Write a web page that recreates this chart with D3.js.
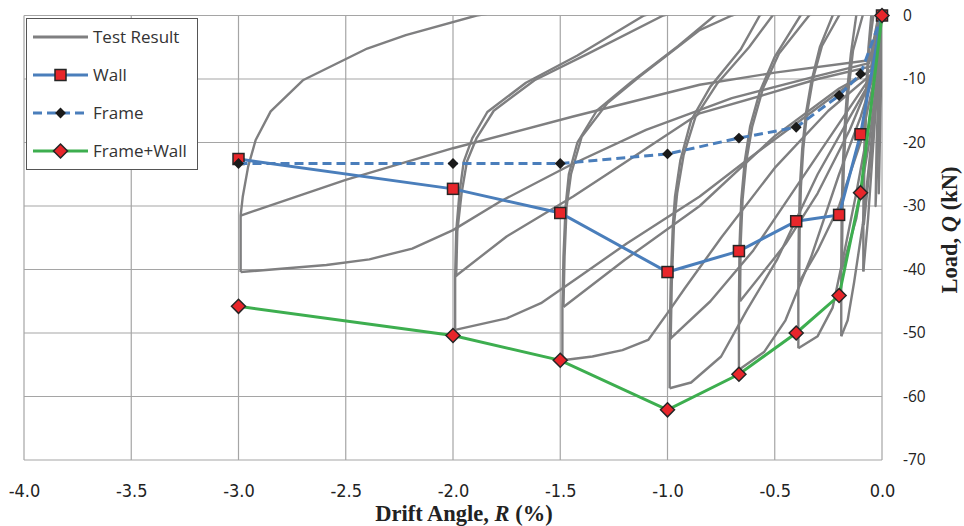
<!DOCTYPE html>
<html>
<head>
<meta charset="utf-8">
<script src="https://cdn.jsdelivr.net/npm/d3@7/dist/d3.min.js"></script>
<style>
body { margin: 0; background: #fff; }
svg { display: block; }
</style>
</head>
<body>
<svg id="chart"></svg>
<script>
// envelope values
var driftPeaks = [-3.0, -2.0, -1.5, -1.0, -0.667, -0.4, -0.2, -0.1, 0];
var wallLoad = [-22.6, -27.3, -31.1, -40.4, -37.1, -32.4, -31.4, -18.7, 0];
var frameLoad = [-23.3, -23.3, -23.3, -21.8, -19.3, -17.6, -12.6, -9.2, 0];
var frameWallLoad = [-45.8, -50.4, -54.3, -62.1, -56.5, -50.0, -44.1, -27.9, 0];

var xTicks = [-4.0, -3.5, -3.0, -2.5, -2.0, -1.5, -1.0, -0.5, 0.0];
var xTickLabels = ["-4.0", "-3.5", "-3.0", "-2.5", "-2.0", "-1.5", "-1.0", "-0.5", "0.0"];
var yTicks = [0, -10, -20, -30, -40, -50, -60, -70];
var yTickLabels = ["0", "-10", "-20", "-30", "-40", "-50", "-60", "-70"];

// hysteresis branches of the test, [R, Q] pairs
var testResult = [
    // -3.0 %
    [[-0.01, 1], [-0.06, -7.5], [-0.3, -9.5], [-0.7, -13], [-1.1, -18], [-1.45, -23.5], [-1.78, -29.3], [-2.0, -33.8], [-2.19, -36.7], [-2.39, -38.4], [-2.59, -39.3], [-2.99, -40.4]],
    [[-2.99, -40.4], [-2.99, -31.5], [-2.98, -28.5], [-2.955, -23.8], [-2.92, -19.6], [-2.85, -15.1], [-2.70, -10.2], [-2.40, -5.2], [-2.22, -3.1], [-1.89, 0], [-1.7, 1]],
    [[-0.01, 1], [-0.05, -7], [-0.5, -9], [-0.85, -10.9], [-1.44, -15.9], [-2.0, -20.9], [-2.5, -25.9], [-2.99, -31.5]],
    // -2.0 %
    [[-0.01, 1], [-0.05, -8.5], [-0.2, -12], [-0.4, -17], [-0.6, -22], [-0.85, -28.5], [-1.19, -35.9], [-1.41, -41.1], [-1.59, -45.3], [-1.75, -47.7], [-1.99, -49.5]],
    [[-1.99, -49.5], [-1.99, -41.1], [-1.985, -34], [-1.97, -28], [-1.95, -23], [-1.91, -19.3], [-1.84, -15.2], [-1.66, -10.6], [-1.42, -6.3], [-1.11, 0], [-1.0, 1]],
    [[-0.01, 1], [-0.05, -8], [-0.3, -10], [-0.55, -12.5], [-0.85, -15.4], [-1.2, -23.2], [-1.44, -28.5], [-1.75, -34.8], [-1.99, -41.1]],
    [[-1.985, -41.1], [-1.98, -34], [-1.96, -28], [-1.935, -23], [-1.89, -19.3], [-1.81, -15], [-1.62, -10.2], [-1.37, -6], [-1.02, 0], [-0.9, 1]],
    // -1.5 %
    [[-0.01, 1], [-0.04, -9], [-0.25, -15], [-0.5, -24], [-0.75, -35], [-0.92, -43], [-0.99, -46.4], [-1.09, -51.1], [-1.21, -52.7], [-1.35, -53.7], [-1.49, -54.3]],
    [[-1.49, -54.3], [-1.49, -45.9], [-1.485, -38], [-1.475, -30], [-1.46, -25], [-1.42, -20], [-1.33, -15], [-1.17, -10.5], [-0.95, -4.8], [-0.78, 0], [-0.7, 1]],
    [[-0.01, 1], [-0.04, -8.5], [-0.2, -11.5], [-0.5, -19], [-0.85, -30], [-1.2, -38.5], [-1.485, -45.9]],
    [[-1.485, -45.9], [-1.48, -38], [-1.47, -30], [-1.45, -25], [-1.40, -19.1], [-1.28, -13.8], [-1.13, -9.6], [-0.85, -2.3], [-0.70, 0], [-0.62, 1]],
    // -1.0 %
    [[-0.01, 1], [-0.04, -9.5], [-0.15, -16], [-0.3, -25], [-0.49, -38.5], [-0.63, -46.4], [-0.75, -53.7], [-0.89, -57.8], [-0.99, -58.7]],
    [[-0.99, -58.7], [-0.99, -51], [-0.985, -42], [-0.975, -33], [-0.965, -28.5], [-0.94, -22.8], [-0.89, -16.5], [-0.8, -11.2], [-0.66, -5.4], [-0.57, 0], [-0.52, 1]],
    [[-0.01, 1], [-0.04, -9], [-0.2, -17], [-0.4, -27], [-0.6, -37], [-0.8, -45], [-0.99, -51]],
    [[-0.985, -51], [-0.98, -42], [-0.97, -33], [-0.955, -28], [-0.925, -22], [-0.87, -16], [-0.77, -10.8], [-0.62, -5], [-0.51, 0], [-0.46, 1]],
    // -0.667 %
    [[-0.01, 1], [-0.04, -9.5], [-0.1, -16], [-0.2, -25], [-0.33, -38], [-0.45, -48], [-0.55, -53], [-0.667, -55.8]],
    [[-0.667, -55.8], [-0.667, -45], [-0.664, -36], [-0.656, -29], [-0.64, -23], [-0.615, -17.5], [-0.57, -12], [-0.5, -6.5], [-0.38, 0], [-0.34, 1]],
    [[-0.01, 1], [-0.04, -9], [-0.15, -18], [-0.3, -28], [-0.45, -36], [-0.662, -45]],
    [[-0.662, -45], [-0.659, -36], [-0.65, -29], [-0.633, -23], [-0.605, -17.5], [-0.555, -11.5], [-0.48, -6], [-0.34, 0], [-0.3, 1]],
    // -0.4 %
    [[-0.01, 1], [-0.03, -9.5], [-0.06, -17], [-0.12, -28], [-0.18, -38], [-0.23, -46], [-0.3, -50.5], [-0.39, -52.4]],
    [[-0.39, -52.4], [-0.39, -42], [-0.388, -34], [-0.383, -27], [-0.372, -21], [-0.355, -15.5], [-0.33, -10.5], [-0.29, -5], [-0.23, 0], [-0.21, 1]],
    [[-0.01, 1], [-0.03, -9], [-0.1, -20], [-0.2, -30], [-0.3, -37], [-0.386, -42]],
    [[-0.386, -42], [-0.384, -34], [-0.378, -27], [-0.367, -21], [-0.35, -15.5], [-0.322, -10], [-0.28, -4.8], [-0.2, 0], [-0.18, 1]],
    // -0.2 %
    [[-0.005, 1], [-0.02, -9.5], [-0.05, -20], [-0.09, -33], [-0.13, -42], [-0.16, -48], [-0.19, -50.5]],
    [[-0.19, -50.5], [-0.19, -40], [-0.188, -31], [-0.183, -24], [-0.175, -18], [-0.163, -12], [-0.145, -6], [-0.12, 0], [-0.11, 1]],
    [[-0.005, 1], [-0.02, -9], [-0.06, -20], [-0.12, -32], [-0.187, -40]],
    [[-0.187, -40], [-0.184, -31], [-0.178, -24], [-0.17, -18], [-0.157, -12], [-0.135, -5.5], [-0.09, 0], [-0.08, 1]],
    // -0.1 %
    [[-0.003, 1], [-0.015, -8], [-0.04, -20], [-0.065, -32], [-0.087, -40.3]],
    [[-0.087, -40.3], [-0.087, -33], [-0.085, -25], [-0.08, -18], [-0.073, -11], [-0.063, -5], [-0.05, 0], [-0.045, 1]],
    [[-0.003, 1], [-0.015, -7.5], [-0.045, -20], [-0.085, -33]],
    [[-0.085, -33], [-0.083, -25], [-0.077, -18], [-0.07, -11], [-0.058, -4.5], [-0.04, 0], [-0.035, 1]],
    // small initial cycles
    [[0, 0], [-0.01, -12], [-0.02, -22], [-0.03, -30], [-0.025, -20], [-0.015, -10], [-0.005, 0]],
    [[0, 1], [-0.005, -10], [-0.01, -20], [-0.015, -28], [-0.01, -18], [0, -6]]
];

var width = 964, height = 526;
var margin = {top: 15.5, right: 82, bottom: 66, left: 24};

var svg = d3.select('#chart')
    .attr('width', width)
    .attr('height', height);

var x = d3.scaleLinear().domain([-4, 0]).range([margin.left, width - margin.right]);
var y = d3.scaleLinear().domain([-70, 0]).range([height - margin.bottom, margin.top]);

var gridColor = '#a5a5a5';

// grid
svg.append('g').selectAll('line.v')
    .data(xTicks).enter().append('line')
    .attr('x1', function(d) { return x(d); })
    .attr('x2', function(d) { return x(d); })
    .attr('y1', y(0)).attr('y2', y(-70))
    .attr('stroke', gridColor).attr('stroke-width', 1.2);
svg.append('g').selectAll('line.h')
    .data(yTicks).enter().append('line')
    .attr('x1', x(-4)).attr('x2', x(0))
    .attr('y1', function(d) { return y(d); })
    .attr('y2', function(d) { return y(d); })
    .attr('stroke', gridColor).attr('stroke-width', 1.2);

// axes
var xAxis = svg.append('g')
    .attr('transform', 'translate(0,' + y(-70) + ')')
    .call(d3.axisBottom(x).tickValues(xTicks)
        .tickFormat(function(d, i) { return xTickLabels[i]; })
        .tickSize(0).tickPadding(24));
xAxis.select('.domain').remove();
xAxis.selectAll('text')
    .attr('fill', '#222')
    .style('font-family', '"Liberation Sans Narrow", "DejaVu Sans Condensed", sans-serif')
    .style('font-size', '18px');

var yAxis = svg.append('g')
    .attr('transform', 'translate(' + x(0) + ',0)')
    .call(d3.axisRight(y).tickValues(yTicks)
        .tickFormat(function(d, i) { return yTickLabels[i]; })
        .tickSize(0).tickPadding(21));
yAxis.select('.domain').remove();
yAxis.selectAll('text')
    .attr('fill', '#222')
    .style('font-family', '"Open Sans", sans-serif')
    .style('font-size', '15.5px');

svg.append('text')
    .attr('x', 464).attr('y', 521)
    .attr('text-anchor', 'middle')
    .style('font-family', '"Liberation Serif", serif')
    .style('font-weight', 'bold')
    .style('font-size', '22.5px')
    .attr('fill', '#222')
    .html('Drift Angle, <tspan font-style="italic">R</tspan> (%)');

svg.append('text')
    .attr('transform', 'translate(957,230) rotate(-90)')
    .attr('text-anchor', 'middle')
    .style('font-family', '"Liberation Serif", serif')
    .style('font-weight', 'bold')
    .style('font-size', '22.5px')
    .attr('fill', '#222')
    .html('Load, <tspan font-style="italic">Q</tspan> (kN)');

// test curves, clipped to the plot
svg.append('clipPath').attr('id', 'plotclip')
    .append('rect')
    .attr('x', x(-4)).attr('y', y(0))
    .attr('width', x(0) - x(-4)).attr('height', y(-70) - y(0));

var line = d3.line()
    .x(function(d) { return x(d[0]); })
    .y(function(d) { return y(d[1]); });

svg.append('g').attr('clip-path', 'url(#plotclip)')
    .selectAll('path')
    .data(testResult).enter().append('path')
    .attr('d', line)
    .attr('fill', 'none')
    .attr('stroke', '#7f7f80')
    .attr('stroke-width', 2.4)
    .attr('stroke-linejoin', 'round');

function pts(vals) {
    return driftPeaks.map(function(r, i) { return [r, vals[i]]; });
}

var blue = '#4a7ebb';
var green = '#3dae4f';
var red = '#e8262b';

// Wall
svg.append('path').datum(pts(wallLoad))
    .attr('d', line).attr('fill', 'none')
    .attr('stroke', blue).attr('stroke-width', 3);
svg.append('g').selectAll('rect')
    .data(pts(wallLoad)).enter().append('rect')
    .attr('x', function(d) { return x(d[0]) - 5.5; })
    .attr('y', function(d) { return y(d[1]) - 5.5; })
    .attr('width', 11).attr('height', 11)
    .attr('fill', red).attr('stroke', '#262626').attr('stroke-width', 1.5);

// Frame
svg.append('path').datum(pts(frameLoad))
    .attr('d', line).attr('fill', 'none')
    .attr('stroke', blue).attr('stroke-width', 3)
    .attr('stroke-dasharray', '9,5');
var smallDiamond = d3.symbol().type(d3.symbolDiamond2).size(75);
svg.append('g').selectAll('path')
    .data(pts(frameLoad)).enter().append('path')
    .attr('d', smallDiamond)
    .attr('transform', function(d) { return 'translate(' + x(d[0]) + ',' + y(d[1]) + ')'; })
    .attr('fill', '#1a1a1a');

// Frame+Wall
svg.append('path').datum(pts(frameWallLoad))
    .attr('d', line).attr('fill', 'none')
    .attr('stroke', green).attr('stroke-width', 3);
var bigDiamond = d3.symbol().type(d3.symbolDiamond2).size(125);
svg.append('g').selectAll('path')
    .data(pts(frameWallLoad)).enter().append('path')
    .attr('d', bigDiamond)
    .attr('transform', function(d) { return 'translate(' + x(d[0]) + ',' + y(d[1]) + ')'; })
    .attr('fill', red).attr('stroke', '#262626').attr('stroke-width', 1.5);

// legend
var legend = svg.append('g');
legend.append('rect')
    .attr('x', 26.5).attr('y', 18.5).attr('width', 171).attr('height', 151)
    .attr('fill', '#fff').attr('stroke', '#555').attr('stroke-width', 1);

var legendItems = ['Test Result', 'Wall', 'Frame', 'Frame+Wall'];
var legendY = [37, 75, 113, 151];
legendItems.forEach(function(name, i) {
    var ly = legendY[i];
    var l = legend.append('line')
        .attr('x1', 33).attr('x2', 88).attr('y1', ly).attr('y2', ly)
        .attr('stroke-width', 3);
    if (i === 0) l.attr('stroke', '#7f7f80');
    if (i === 1) {
        l.attr('stroke', blue);
        legend.append('rect').attr('x', 55).attr('y', ly - 5.5)
            .attr('width', 11).attr('height', 11)
            .attr('fill', red).attr('stroke', '#262626').attr('stroke-width', 1.5);
    }
    if (i === 2) {
        l.attr('stroke', blue).attr('stroke-dasharray', '9,5');
        legend.append('path').attr('d', smallDiamond)
            .attr('transform', 'translate(60.5,' + ly + ')').attr('fill', '#1a1a1a');
    }
    if (i === 3) {
        l.attr('stroke', green);
        legend.append('path').attr('d', bigDiamond)
            .attr('transform', 'translate(60.5,' + ly + ')')
            .attr('fill', red).attr('stroke', '#262626').attr('stroke-width', 1.5);
    }
    legend.append('text')
        .attr('x', 93).attr('y', ly).attr('dy', '0.35em')
        .style('font-family', '"Open Sans", sans-serif')
        .style('font-size', '17px')
        .attr('fill', '#333')
        .text(name);
});
</script>
</body>
</html>
